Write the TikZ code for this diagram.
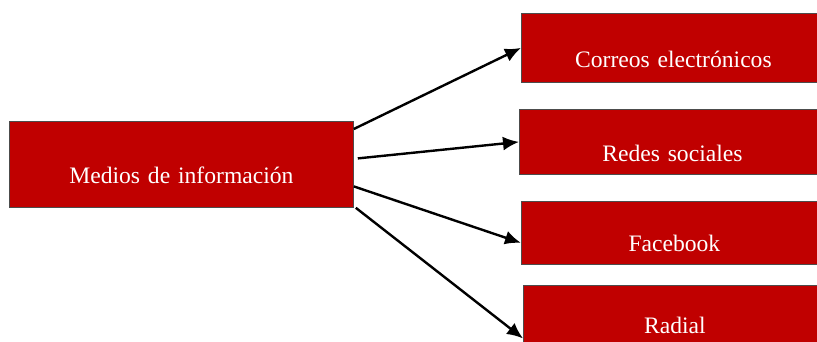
\documentclass[tikz,border=0pt]{standalone}
\usepackage{fontspec}
\setmainfont{Liberation Serif}
\usepackage{xcolor}
\usetikzlibrary{arrows.meta}
\definecolor{rojo}{RGB}{192,0,0}

\begin{document}
\begin{tikzpicture}[x=1pt,y=-1pt,
		medio/.style={draw=black!70,line width=0.8pt,fill=rojo,text=white,anchor=north west,
			inner sep=0pt,align=center,font=\fontsize{23.6}{28}\selectfont},
		flecha/.style={-{Latex[length=16pt,width=14pt]},line width=2.4pt}]
			\useasboundingbox (0,0) rectangle (817,341);
			\node[medio,text width=344pt,text height=62pt,text depth=24pt] (medios) at (9,121) {Medios de información};
			\node[medio,text width=304pt,text height=54pt,text depth=15pt] (correos) at (521,13) {Correos electrónicos};
			\node[medio,text width=306pt,text height=52pt,text depth=13pt] (redes) at (519,109) {Redes sociales};
			\node[medio,text width=306pt,text height=50pt,text depth=13pt] (facebook) at (521,201) {Facebook};
			\node[medio,text width=303pt,text height=48pt,text depth=22pt] (radial) at (523,285) {Radial};
			\draw[flecha] ([yshift=-8pt]medios.north east) -- (correos.west);
			\draw[flecha] ([xshift=4pt,yshift=6pt]medios.east) -- (redes.west);
			\draw[flecha] ([yshift=-22pt]medios.east) -- ([yshift=-10pt]facebook.west);
			\draw[flecha] ([xshift=2pt]medios.south east) -- ([yshift=-18pt]radial.west);
\end{tikzpicture}
\end{document}
